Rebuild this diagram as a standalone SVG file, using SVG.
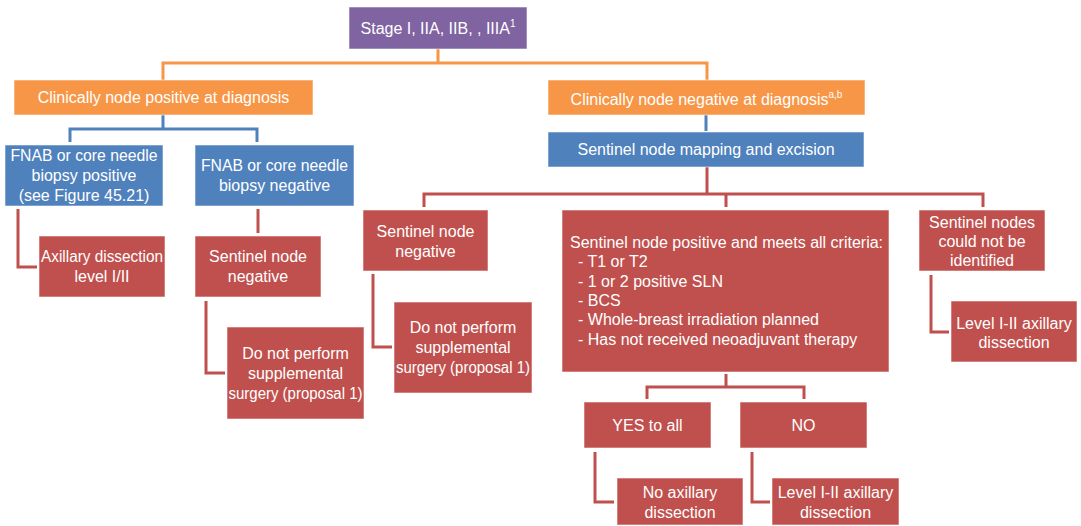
<svg xmlns="http://www.w3.org/2000/svg" width="1081" height="526" viewBox="0 0 1081 526">
  <style>
    .box { stroke: #ffffff; stroke-opacity: 0.55; stroke-width: 1; }
    .purple { fill: #8064A2; }
    .orange { fill: #F79646; }
    .blue { fill: #4F81BD; }
    .red { fill: #C0504D; }
    text { font-family: "Liberation Sans", Arial, Helvetica, sans-serif; font-size: 16px; fill: #ffffff; }
    .c { text-anchor: middle; }
    .sup { font-size: 10px; }
    .link { fill: none; stroke-width: 3; stroke-linejoin: miter; stroke-linecap: butt; }
    .lo { stroke: #F79646; }
    .lb { stroke: #4F81BD; }
    .lr { stroke: #C0504D; }
  </style>
  <rect width="1081" height="526" fill="#ffffff"/>

  <!-- connectors -->
  <g id="connectors">
    <path class="link lo" d="M438,49 V63 M163,80 V63 H707 V80"/>
    <path class="link lb" d="M163,115 V129 M70,142 V129 H257 V142"/>
    <path class="link lb" d="M706,115 V131"/>
    <path class="link lr" d="M707,167 V194 M424,207 V194 H983 V207 M726,194 V207"/>
    <path class="link lr" d="M18,209 V267 H37"/>
    <path class="link lr" d="M258,209 V233"/>
    <path class="link lr" d="M206,301 V373 H225"/>
    <path class="link lr" d="M373,274 V347 H392"/>
    <path class="link lr" d="M931,275 V332 H949"/>
    <path class="link lr" d="M726,374 V387 M647,399 V387 H804 V399"/>
    <path class="link lr" d="M595,452 V502 H614"/>
    <path class="link lr" d="M752,452 V502 H770"/>
  </g>

  <!-- nodes -->
  <g id="stage">
    <rect class="box purple" x="349" y="7" width="178" height="42"/>
    <text class="c" x="438" y="33.5">Stage I, IIA, IIB, , IIIA<tspan class="sup" dy="-7">1</tspan></text>
  </g>

  <g id="node-positive">
    <rect class="box orange" x="14" y="80" width="299" height="35"/>
    <text class="c" x="163.5" y="103">Clinically node positive at diagnosis</text>
  </g>

  <g id="node-negative">
    <rect class="box orange" x="548" y="80" width="317" height="35"/>
    <text class="c" x="706.5" y="105">Clinically node negative at diagnosis<tspan class="sup" dy="-7">a,b</tspan></text>
  </g>

  <g id="fnab-positive">
    <rect class="box blue" x="5" y="145" width="158" height="61"/>
    <text class="c" x="84" y="161" textLength="147" lengthAdjust="spacingAndGlyphs">FNAB or core needle</text>
    <text class="c" x="84" y="181">biopsy positive</text>
    <text class="c" x="84" y="201">(see Figure 45.21)</text>
  </g>

  <g id="fnab-negative">
    <rect class="box blue" x="195" y="145" width="159" height="61"/>
    <text class="c" x="274.5" y="171" textLength="147" lengthAdjust="spacingAndGlyphs">FNAB or core needle</text>
    <text class="c" x="274.5" y="191">biopsy negative</text>
  </g>

  <g id="sentinel-mapping">
    <rect class="box blue" x="548" y="132" width="316" height="35"/>
    <text class="c" x="706" y="155">Sentinel node mapping and excision</text>
  </g>

  <g id="axillary-dissection">
    <rect class="box red" x="39" y="236" width="126" height="61"/>
    <text class="c" x="102" y="262" textLength="122" lengthAdjust="spacingAndGlyphs">Axillary dissection</text>
    <text class="c" x="102" y="282">level I/II</text>
  </g>

  <g id="sentinel-negative-left">
    <rect class="box red" x="195" y="236" width="126" height="61"/>
    <text class="c" x="258" y="262">Sentinel node</text>
    <text class="c" x="258" y="282">negative</text>
  </g>

  <g id="no-surgery-left">
    <rect class="box red" x="227" y="327" width="137" height="92"/>
    <text class="c" x="295.5" y="359">Do not perform</text>
    <text class="c" x="295.5" y="379">supplemental</text>
    <text class="c" x="295.5" y="399" textLength="134" lengthAdjust="spacingAndGlyphs">surgery (proposal 1)</text>
  </g>

  <g id="sentinel-negative">
    <rect class="box red" x="363" y="210" width="125" height="61"/>
    <text class="c" x="425.5" y="236.5">Sentinel node</text>
    <text class="c" x="425.5" y="256.5">negative</text>
  </g>

  <g id="no-surgery">
    <rect class="box red" x="394" y="302" width="138" height="91"/>
    <text class="c" x="463" y="333">Do not perform</text>
    <text class="c" x="463" y="353">supplemental</text>
    <text class="c" x="463" y="373" textLength="134" lengthAdjust="spacingAndGlyphs">surgery (proposal 1)</text>
  </g>

  <g id="sentinel-positive">
    <rect class="box red" x="562" y="210" width="327" height="162"/>
    <text x="570" y="248">Sentinel node positive and meets all criteria:</text>
    <text x="578" y="267.3">- T1 or T2</text>
    <text x="578" y="286.6">- 1 or 2 positive SLN</text>
    <text x="578" y="306">- BCS</text>
    <text x="578" y="325.3">- Whole-breast irradiation planned</text>
    <text x="578" y="344.6">- Has not received neoadjuvant therapy</text>
  </g>

  <g id="not-identified">
    <rect class="box red" x="919" y="210" width="126" height="61"/>
    <text class="c" x="982" y="227.5">Sentinel nodes</text>
    <text class="c" x="982" y="246.5">could not be</text>
    <text class="c" x="982" y="265.5">identified</text>
  </g>

  <g id="level-dissection-right">
    <rect class="box red" x="951" y="301" width="126" height="61"/>
    <text class="c" x="1014" y="328.5">Level I-II axillary</text>
    <text class="c" x="1014" y="347.5">dissection</text>
  </g>

  <g id="yes-all">
    <rect class="box red" x="584" y="402" width="127" height="46"/>
    <text class="c" x="647.5" y="430.5">YES to all</text>
  </g>

  <g id="no">
    <rect class="box red" x="740" y="402" width="127" height="46"/>
    <text class="c" x="803.5" y="430.5">NO</text>
  </g>

  <g id="no-axillary">
    <rect class="box red" x="617" y="478" width="126" height="47"/>
    <text class="c" x="680" y="497.5">No axillary</text>
    <text class="c" x="680" y="517.5">dissection</text>
  </g>

  <g id="level-dissection-bottom">
    <rect class="box red" x="772" y="478" width="127" height="47"/>
    <text class="c" x="835.5" y="497.5">Level I-II axillary</text>
    <text class="c" x="835.5" y="517.5">dissection</text>
  </g>
</svg>
